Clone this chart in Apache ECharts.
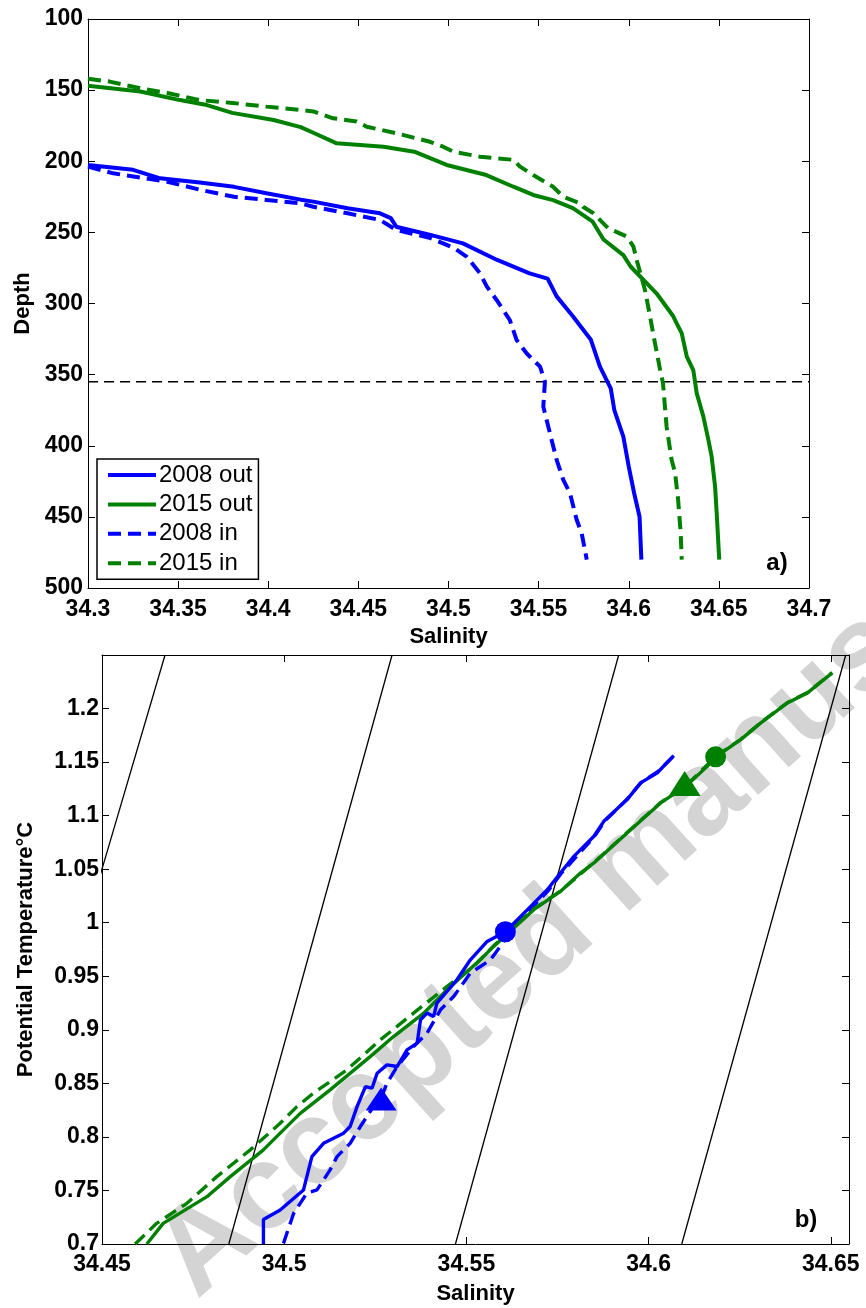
<!DOCTYPE html>
<html>
<head>
<meta charset="utf-8">
<script src="https://cdn.jsdelivr.net/npm/echarts@6/dist/echarts.min.js"></script>
<style>
html,body{margin:0;padding:0;background:#fff}
#chart{width:866px;height:1308px}
</style>
</head>
<body>
<div id="chart"></div>
<script>
// ---------- a) salinity profiles: salinity vs depth (m) ----------
const sal2008Out = [34.300,34.325,34.340,34.362,34.381,34.399,34.418,34.425,34.444,34.462,34.468,34.471,34.490,34.508,34.527,34.545,34.555,34.560,34.569,34.579,34.584,34.590,34.592,34.597,34.600,34.603,34.606,34.607];
const dep2008Out = [202.6,206,212,215,218,222.5,227,228.4,233,236.6,240,246,251.8,257.7,269.4,278.8,282.5,295,309,325.5,344.4,359.6,374.9,393.6,414.7,433.4,449.9,480];

const sal2015Out = [34.300,34.329,34.351,34.366,34.380,34.403,34.418,34.425,34.438,34.464,34.481,34.499,34.521,34.536,34.547,34.558,34.569,34.580,34.586,34.597,34.601,34.6155,34.6247,34.6266,34.6294,34.6322,34.6358,34.6377,34.6414,34.6442,34.646,34.6479,34.6488,34.6502];
const dep2015Out = [147,151,157,160.5,166,171,176,180,187.4,189.8,193.3,202.6,209.7,217.9,223.7,227.3,233,242.5,255,266,274,293,309,314,321,337.4,346.8,363,379.5,396,407.7,428.8,447.5,480];

const sal2008In = [34.300,34.314,34.344,34.362,34.381,34.399,34.418,34.425,34.444,34.462,34.471,34.490,34.503,34.510,34.5175,34.5212,34.5267,34.534,34.5378,34.5433,34.5508,34.5535,34.5526,34.5563,34.560,34.5637,34.5674,34.5711,34.5739,34.5767];
const dep2008In = [203.8,208.5,214.4,220,225,227.2,229.6,232,236.6,241.3,248.3,254,261,267,278.8,288,297.5,311.6,325.7,335,344.4,355,372.5,391.3,410,424,433.4,452,461.6,480];

const sal2015In = [34.300,34.312,34.329,34.344,34.362,34.380,34.399,34.418,34.425,34.436,34.449,34.4546,34.4713,34.4897,34.497,34.5027,34.5175,34.536,34.5397,34.547,34.558,34.5637,34.573,34.5746,34.5804,34.5885,34.599,34.6026,34.6044,34.609,34.6118,34.6135,34.6174,34.619,34.621,34.6238,34.6257,34.6274,34.6288,34.6294];
const dep2015In = [142,144,148.7,152,157,159,161.6,164,165,169.8,172,175.7,180.4,186.3,189.8,193.3,196.8,199,203.8,209.7,217.9,225,229.5,232,236.6,247,253,260,269.4,290.5,309,320.8,346.7,356,386.6,410,419,438,461.4,480];

const refDepth = 355;

// ---------- b) potential temperature vs salinity ----------
const tsSal2008Out = [34.4943,34.4943,34.4989,34.5053,34.5076,34.5108,34.5163,34.5181,34.5200,34.5223,34.5241,34.5255,34.5282,34.5310,34.5337,34.5365,34.5374,34.5392,34.5410,34.5419,34.5474,34.5511,34.5557,34.5607,34.5667,34.5722,34.5758,34.5795,34.5850,34.5877,34.5941,34.5978,34.6024,34.6069];
const tsTheta2008Out = [0.700,0.7228,0.7318,0.7505,0.7816,0.794,0.8035,0.8097,0.8283,0.847,0.8455,0.8595,0.8673,0.8657,0.8813,0.8876,0.9093,0.9156,0.9124,0.925,0.9467,0.9654,0.9825,0.9916,1.012,1.0308,1.0464,1.062,1.0807,1.0947,1.115,1.1306,1.140,1.156];

const tsSal2008In = [34.4998,34.5026,34.5062,34.5090,34.5126,34.5145,34.5181,34.5209,34.5245,34.5264,34.5282,34.5310,34.5355,34.5392,34.5429,34.5465,34.5511,34.5566,34.5593,34.5625,34.5670,34.5725,34.5760,34.5800,34.5850,34.5880,34.5940,34.5980,34.6025,34.6070];
const tsTheta2008In = [0.7006,0.7287,0.7474,0.7505,0.7692,0.7816,0.794,0.8097,0.8283,0.8346,0.8502,0.8657,0.8844,0.8969,0.9187,0.9311,0.953,0.9654,0.978,0.995,1.011,1.030,1.046,1.061,1.080,1.095,1.115,1.131,1.141,1.156];

const tsSal2015Out = [34.4623,34.4668,34.4788,34.4852,34.4943,34.4989,34.5044,34.5126,34.5236,34.5300,34.5383,34.5447,34.5538,34.5575,34.5685,34.5758,34.5813,34.5850,34.5941,34.6033,34.6102,34.6161,34.6184,34.6253,34.6308,34.6381,34.6436,34.6504];
const tsTheta2015Out = [0.700,0.7193,0.7442,0.7629,0.7879,0.8035,0.822,0.8439,0.875,0.8937,0.9156,0.9374,0.9654,0.9779,1.0122,1.0292,1.0464,1.0558,1.0838,1.1119,1.1274,1.146,1.1549,1.171,1.1866,1.2053,1.2146,1.2333];

const tsSal2015In = [34.4591,34.4650,34.4733,34.4815,34.4907,34.4989,34.5035,34.5080,34.5172,34.5264,34.5355,34.5447,34.5520,34.5575,34.5685,34.5758,34.5850,34.5941,34.6033,34.6102,34.6184,34.6253,34.6308,34.6381,34.6436,34.6504];
const tsTheta2015In = [0.700,0.7193,0.738,0.7629,0.7879,0.8128,0.8283,0.8408,0.8626,0.8907,0.9156,0.9405,0.9592,0.9785,1.013,1.0295,1.0562,1.0842,1.1122,1.1277,1.1552,1.1713,1.1869,1.2056,1.2149,1.2336];

// circle and triangle markers: [2008, 2015]
const circleSal = [34.5607, 34.6184];
const circleTheta = [0.9916, 1.1549];
const triangleSal = [34.5266, 34.6099];
const triangleTheta = [0.8355, 1.1299];

// isopycnal end points at θ = 0.7 and θ = 1.25
const isoSalLow = [34.4197, 34.4848, 34.5470, 34.6091];
const isoSalHigh = [34.4673, 34.5296, 34.5918, 34.6541];
const isoThetaLow = 0.7, isoThetaHigh = 1.25;

// axis ranges
const salRangeA = [34.3, 34.7], depthRange = [100, 500];
const salRangeB = [34.45, 34.655], thetaRange = [0.7, 1.25];

// ---------- drawing ----------
const BLUE = '#0000ff', GREEN = '#008000';
const FONT = '"Liberation Sans", Arial, Helvetica, sans-serif';
const zip = (a, b) => a.map((v, i) => [v, b[i]]);
const fmt = v => String(parseFloat(v.toFixed(3)));

const lineCol = {color: '#000', width: 1};
const tickCol = {show: true, inside: true, length: 7, lineStyle: {color: '#000', width: 1}};
const tickLabel = {color: '#000', fontSize: 23, fontWeight: 'bold', fontFamily: FONT, formatter: fmt};

function mainAxis(grid, pos, range, interval, extra) {
  return Object.assign({
    type: 'value', gridIndex: grid, position: pos, min: range[0], max: range[1], interval: interval,
    axisLine: {show: true, onZero: false, lineStyle: lineCol},
    axisTick: tickCol, splitLine: {show: false},
    nameTextStyle: {color: '#000', fontSize: 22, fontWeight: 'bold', fontFamily: FONT}
  }, extra);
}
function frameAxis(grid, pos, range, interval, extra) {
  return Object.assign({
    type: 'value', gridIndex: grid, position: pos, min: range[0], max: range[1], interval: interval,
    axisLine: {show: true, onZero: false, lineStyle: lineCol},
    axisTick: tickCol, axisLabel: {show: false}, splitLine: {show: false}
  }, extra);
}

const profileLine = (name, s, d, color, dashed) => ({
  name: name, type: 'line', xAxisIndex: 0, yAxisIndex: 0, data: zip(s, d),
  symbol: 'none', silent: true, z: 3,
  itemStyle: {color: color},
  lineStyle: {color: color, width: 4, type: dashed ? [13, 7] : 'solid'}
});
const tsLine = (name, s, t, color, dashed) => ({
  name: name, type: 'line', xAxisIndex: 2, yAxisIndex: 2, data: zip(s, t),
  symbol: 'none', silent: true, z: 3,
  lineStyle: {color: color, width: 3.4, type: dashed ? [13, 7] : 'solid'}
});
const marker = (name, s, t, symbol, size, color) => ({
  name: name, type: 'scatter', xAxisIndex: 2, yAxisIndex: 2, data: [[s, t]],
  symbol: symbol, symbolSize: size, silent: true, z: 5,
  itemStyle: {color: color, opacity: 1}
});

const series = [
  profileLine('2008 in', sal2008In, dep2008In, BLUE, true),
  profileLine('2015 in', sal2015In, dep2015In, GREEN, true),
  profileLine('2008 out', sal2008Out, dep2008Out, BLUE, false),
  profileLine('2015 out', sal2015Out, dep2015Out, GREEN, false),
  {
    name: 'reference depth', type: 'line', xAxisIndex: 0, yAxisIndex: 0,
    data: [[salRangeA[0], refDepth], [salRangeA[1], refDepth]],
    symbol: 'none', silent: true, z: 2,
    lineStyle: {color: '#000', width: 1.4, type: [10, 6]}
  }
];
isoSalLow.forEach((s, i) => series.push({
  name: 'isopycnal ' + (i + 1), type: 'line', xAxisIndex: 2, yAxisIndex: 2,
  data: [[s, isoThetaLow], [isoSalHigh[i], isoThetaHigh]],
  symbol: 'none', silent: true, z: 2,
  lineStyle: {color: '#000', width: 1.3}
}));
series.push(
  tsLine('θS 2008 in', tsSal2008In, tsTheta2008In, BLUE, true),
  tsLine('θS 2015 in', tsSal2015In, tsTheta2015In, GREEN, true),
  tsLine('θS 2015 out', tsSal2015Out, tsTheta2015Out, GREEN, false),
  tsLine('θS 2008 out', tsSal2008Out, tsTheta2008Out, BLUE, false),
  marker('2008 circle', circleSal[0], circleTheta[0], 'circle', 21, BLUE),
  marker('2015 circle', circleSal[1], circleTheta[1], 'circle', 21, GREEN),
  marker('2008 triangle', triangleSal[0], triangleTheta[0], 'triangle', [31, 23], BLUE),
  marker('2015 triangle', triangleSal[1], triangleTheta[1], 'triangle', [32, 25], GREEN)
);

const chart = echarts.init(document.getElementById('chart'), null, {renderer: 'canvas'});
chart.setOption({
  animation: false,
  backgroundColor: '#fff',
  textStyle: {fontFamily: FONT},
  grid: [
    {left: 88, top: 19, width: 721, height: 569, containLabel: false},
    {left: 102, top: 655, width: 747, height: 589, containLabel: false}
  ],
  xAxis: [
    mainAxis(0, 'bottom', salRangeA, 0.05, {
      name: 'Salinity', nameLocation: 'middle', nameGap: 38,
      axisLabel: Object.assign({margin: 10}, tickLabel)
    }),
    frameAxis(0, 'top', salRangeA, 0.05),
    mainAxis(1, 'bottom', salRangeB, 0.05, {
      name: 'Salinity', nameLocation: 'middle', nameGap: 39,
      axisLabel: Object.assign({margin: 9, showMaxLabel: false}, tickLabel)
    }),
    frameAxis(1, 'top', salRangeB, 0.05)
  ],
  yAxis: [
    mainAxis(0, 'left', depthRange, 50, {
      inverse: true, name: 'Depth', nameLocation: 'middle', nameGap: 54,
      axisLabel: Object.assign({margin: 5}, tickLabel)
    }),
    frameAxis(0, 'right', depthRange, 50, {inverse: true}),
    mainAxis(1, 'left', thetaRange, 0.05, {
      name: 'Potential Temperature°C', nameLocation: 'middle', nameGap: 65,
      axisLabel: Object.assign({margin: 3, showMaxLabel: false}, tickLabel)
    }),
    frameAxis(1, 'right', thetaRange, 0.05)
  ],
  legend: {
    show: true, orient: 'vertical', left: 97, top: 459,
    data: ['2008 out', '2015 out', '2008 in', '2015 in'],
    itemWidth: 48, itemHeight: 14, itemGap: 5.4,
    itemStyle: {opacity: 0},
    lineStyle: {width: 4},
    backgroundColor: '#fff', borderColor: '#000', borderWidth: 1.5, borderRadius: 0,
    padding: [4, 6, 4, 9],
    selectedMode: false,
    textStyle: {color: '#000', fontSize: 24, fontFamily: FONT, padding: [0, 0, 0, -2], lineHeight: 24}
  },
  graphic: [
    {
      type: 'text', x: 215, y: 1320, rotation: 42 * Math.PI / 180, z: -10, silent: true,
      style: {text: 'Accepted manuscript', font: 'bold 120px ' + FONT, fill: '#d4d4d4',
              textAlign: 'left', textVerticalAlign: 'bottom'}
    },
    {
      type: 'text', x: 777, y: 563, z: 10, silent: true,
      style: {text: 'a)', font: 'bold 24px ' + FONT, fill: '#000', textAlign: 'center', textVerticalAlign: 'middle'}
    },
    {
      type: 'text', x: 806, y: 1220, z: 10, silent: true,
      style: {text: 'b)', font: 'bold 24px ' + FONT, fill: '#000', textAlign: 'center', textVerticalAlign: 'middle'}
    }
  ],
  series: series
});
</script>
</body>
</html>
